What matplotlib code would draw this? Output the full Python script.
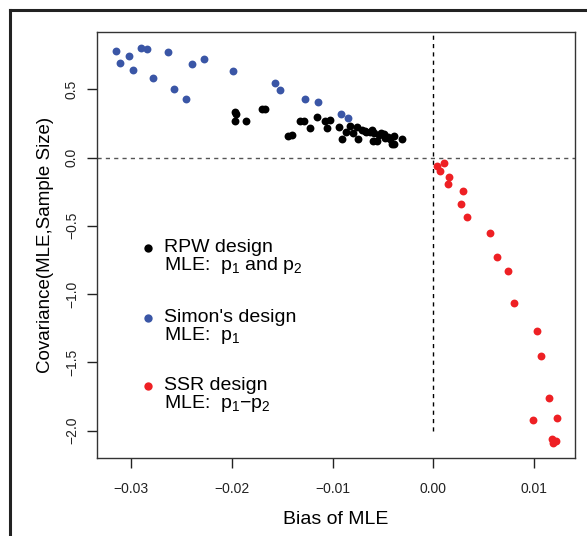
import matplotlib
matplotlib.use("Agg")
import matplotlib.pyplot as plt
from matplotlib.lines import Line2D

plt.rcParams['font.family'] = ['Liberation Sans', 'DejaVu Sans']
plt.rcParams['mathtext.default'] = 'regular'

# Simon's design (blue)
simon_bias = [-0.03146, -0.03106, -0.03017, -0.02983, -0.02898, -0.02845, -0.02779,
              -0.02637, -0.02577, -0.02458, -0.02396, -0.02277, -0.0199, -0.01574,
              -0.01525, -0.0127, -0.01149, -0.00911, -0.00848]
simon_cov = [0.782, 0.692, 0.743, 0.641, 0.799, 0.797, 0.582,
             0.772, 0.504, 0.426, 0.682, 0.719, 0.633, 0.543,
             0.494, 0.426, 0.404, 0.321, 0.289]

# RPW design (black)
rpw_bias = [-0.01967, -0.01955, -0.01967, -0.01861, -0.01703, -0.0167, -0.01442, -0.01403,
            -0.01324, -0.01284, -0.01228, -0.01155, -0.01079, -0.01027, -0.01059,
            -0.00938, -0.00871, -0.00904, -0.00822, -0.00799, -0.00746, -0.00756,
            -0.00703, -0.00663, -0.00624, -0.00591, -0.00597, -0.00557, -0.00542,
            -0.00492, -0.00475, -0.00433, -0.00393, -0.00413, -0.00393, -0.00307,
            -0.00680, -0.00520, -0.00450, -0.00610]
rpw_cov = [0.335, 0.322, 0.269, 0.265, 0.355, 0.355, 0.157, 0.165,
           0.265, 0.265, 0.216, 0.294, 0.267, 0.275, 0.214,
           0.223, 0.187, 0.135, 0.231, 0.182, 0.133, 0.221,
           0.201, 0.189, 0.189, 0.177, 0.121, 0.119, 0.165,
           0.172, 0.143, 0.133, 0.157, 0.099, 0.099, 0.138,
           0.195, 0.180, 0.150, 0.200]

# SSR design (red)
ssr_bias = [0.00036, 0.00102, 0.00069, 0.00152, 0.00145, 0.00297, 0.00274, 0.00333,
            0.00558, 0.00634, 0.00743, 0.00802, 0.0103, 0.01073, 0.01152, 0.01228,
            0.00993, 0.01175, 0.01218, 0.01191]
ssr_cov = [-0.060, -0.043, -0.097, -0.140, -0.196, -0.248, -0.343, -0.436,
           -0.555, -0.731, -0.831, -1.063, -1.268, -1.451, -1.761, -1.907,
           -1.924, -2.063, -2.073, -2.092]

xticks = [-0.03, -0.02, -0.01, 0.00, 0.01]
xticklabels = ["\u22120.03", "\u22120.02", "\u22120.01", "0.00", "0.01"]
yticks = [0.5, 0.0, -0.5, -1.0, -1.5, -2.0]
yticklabels = ["0.5", "0.0", "\u22120.5", "\u22121.0", "\u22121.5", "\u22122.0"]

BLUE = '#3A56A6'
RED = '#EE2024'

fig = plt.figure(figsize=(5.87, 5.36), dpi=100)
ax = fig.add_axes([97/587, 1-458/536, (575-97)/587, (458-32)/536])

ms = 32
ax.scatter(rpw_bias, rpw_cov, s=ms, color='black', linewidths=0, zorder=3)
ax.scatter(simon_bias, simon_cov, s=ms, color=BLUE, linewidths=0, zorder=3)
ax.scatter(ssr_bias, ssr_cov, s=ms, color=RED, linewidths=0, zorder=3)

ax.axhline(0, color='#555555', lw=1, ls=(0, (3, 3)), zorder=1)
ax.plot([0, 0], [-2.0, 1.5], color='black', lw=1, ls=(0, (3, 3)), zorder=1)

ax.set_xlim(-0.03337, 0.01406)
ax.set_ylim(-2.2, 0.919)

ax.set_xticks(xticks)
ax.set_xticklabels(xticklabels)
ax.set_yticks(yticks)
ax.set_yticklabels(yticklabels, rotation=90, va='center')
ax.tick_params(direction='out', length=7, width=1, labelsize=10, pad=6, colors='#222222')
ax.tick_params(axis='x', pad=10)
for s in ax.spines.values():
    s.set_color('#333333')
    s.set_linewidth(1)

ax.set_xlabel("Bias of MLE", fontsize=14, labelpad=11)
ax.set_ylabel("Covariance(MLE,Sample Size)", fontsize=13.5, labelpad=8)

# legend
leg = [('black', "RPW design", "MLE:  p$_1$ and p$_2$", 248),
       (BLUE, "Simon's design", "MLE:  p$_1$", 318),
       (RED, "SSR design", "MLE:  p$_1$\u2212p$_2$", 386)]
for col, l1, l2, py in leg:
    ya = (458 - py) / 426
    ya2 = (458 - py - 18) / 426
    ax.scatter([(148-97)/478], [ya], s=ms+4, color=col, linewidths=0, transform=ax.transAxes, zorder=4)
    ax.text((164-97)/478, ya, l1, transform=ax.transAxes, fontsize=14, va='center', ha='left')
    ax.text((164-97)/478, ya2, l2, transform=ax.transAxes, fontsize=14, va='center', ha='left')

# outer frame lines (top and left)
fig.add_artist(Line2D([10/587, 1.0], [1-10/536, 1-10/536], color='#222222', lw=2.2, transform=fig.transFigure))
fig.add_artist(Line2D([10/587, 10/587], [0.0, 1-10/536], color='#222222', lw=2.2, transform=fig.transFigure))

fig.savefig("out.png", dpi=100)
